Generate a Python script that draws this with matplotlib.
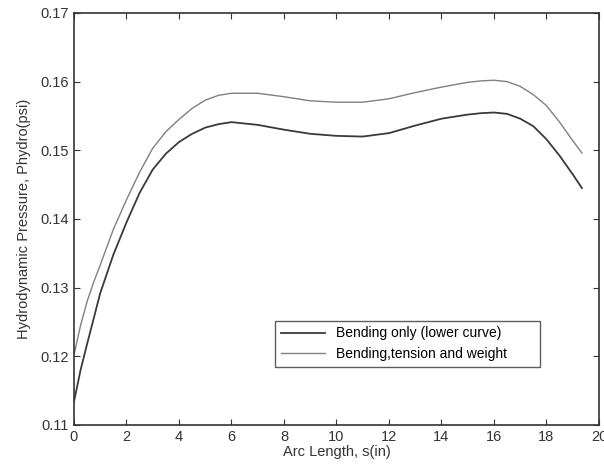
import numpy as np
import matplotlib.pyplot as plt

plt.rcParams['font.family'] = ['Liberation Sans', 'DejaVu Sans']

# Arc length (in)
s = [0, 0.25, 0.5, 0.75, 1, 1.5, 2, 2.5, 3, 3.5, 4, 4.5, 5, 5.5, 6, 7, 8,
     9, 10, 11, 12, 13, 14, 15, 15.5, 16, 16.5, 17, 17.5, 18, 18.5, 19, 19.35]
# bending only (lower curve)
p_bend = [0.1134, 0.1180, 0.1218, 0.1255, 0.1292, 0.1348, 0.1395, 0.1438,
          0.1472, 0.1495, 0.1512, 0.1524, 0.1533, 0.1538, 0.1541, 0.1537,
          0.1530, 0.1524, 0.1521, 0.1520, 0.1525, 0.1536, 0.1546, 0.1552,
          0.1554, 0.1555, 0.1553, 0.1546, 0.1535, 0.1516, 0.1492, 0.1465,
          0.1445]
# bending, tension and weight
p_all = [0.1202, 0.1245, 0.1280, 0.1308, 0.1333, 0.1385, 0.1428, 0.1468,
         0.1503, 0.1527, 0.1545, 0.1561, 0.1573, 0.1580, 0.1583, 0.1583,
         0.1578, 0.1572, 0.1570, 0.1570, 0.1575, 0.1584, 0.1592, 0.1599,
         0.1601, 0.1602, 0.1600, 0.1593, 0.1581, 0.1565, 0.1541, 0.1514,
         0.1496]

fig = plt.figure(figsize=(6.04, 4.72), dpi=100)
ax = fig.add_axes([0.1225, 0.0996, 0.8692, 0.873])

ax.plot(s, p_bend, color='#3a3a3a', lw=1.3, label='Bending only (lower curve)')
ax.plot(s, p_all, color='#808080', lw=1.0, label='Bending,tension and weight')

ax.set_xlim(0, 20)
ax.set_ylim(0.11, 0.17)
ax.set_xticks(np.arange(0, 21, 2))
ax.set_yticks(np.arange(0.11, 0.1701, 0.01))
ax.set_yticklabels(['0.11', '0.12', '0.13', '0.14', '0.15', '0.16', '0.17'])
ax.tick_params(direction='in', top=True, right=True, labelsize=10.5,
               length=4, colors='#333333')
for sp in ax.spines.values():
    sp.set_color('#333333')
    sp.set_linewidth(1.2)

ax.set_xlabel('Arc Length, s(in)', fontsize=10.5, color='#333333', labelpad=1)
ax.set_ylabel('Hydrodynamic Pressure, Phydro(psi)', fontsize=10.5,
              color='#333333', labelpad=7)

leg = ax.legend(loc='lower left', bbox_to_anchor=(0.383, 0.141, 0.505, 0.126),
                mode='expand', fancybox=False, edgecolor='#333333',
                fontsize=10, handlelength=3.2, borderaxespad=0)
leg.get_frame().set_linewidth(1.0)

fig.savefig('out.png', dpi=100)
